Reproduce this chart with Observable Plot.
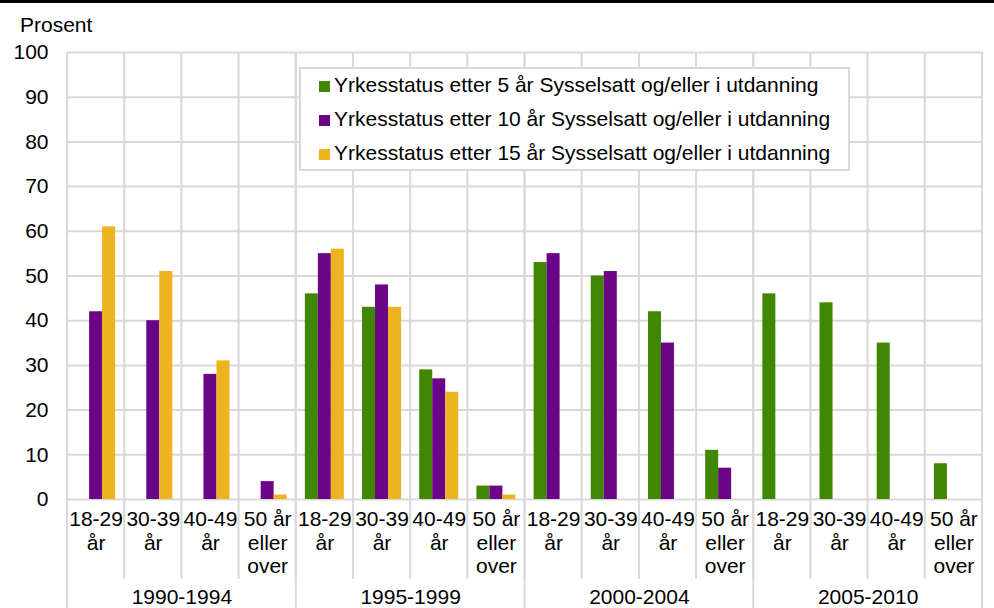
<!DOCTYPE html>
<html>
<head>
<meta charset="utf-8">
<script src="https://cdn.jsdelivr.net/npm/d3@7"></script>
<script src="https://cdn.jsdelivr.net/npm/@observablehq/plot@0.6"></script>
<style>
  html, body { margin: 0; padding: 0; background: white; }
  body { width: 994px; height: 608px; position: relative; overflow: hidden;
         font-family: "Liberation Sans", Arial, sans-serif; color: #000; }
  #topbar { height: 3px; background: #000; }
  #ylabel { position: absolute; left: 20px; top: 14px; font-size: 21px; line-height: 21px; }
  #legend { position: absolute; left: 299px; top: 67px; width: 551px; height: 104px;
            box-sizing: border-box; border: 2px solid #d9d9d9; background: white; }
  .item { position: absolute; font-size: 21px; line-height: 21px; white-space: nowrap; }
  .sw { position: absolute; left: 18px; width: 11px; height: 11px; }
  .lt { left: 33px; }
</style>
</head>
<body>
<div id="topbar"></div>
<div id="chart"></div>
<div id="ylabel">Prosent</div>
<div id="legend"></div>
<script>
// ---- data ----
const periods = ["1990-1994", "1995-1999", "2000-2004", "2005-2010"];
const ages = ["18-29 år", "30-39 år", "40-49 år", "50 år eller over"];
const ageLabels = ["18-29\når", "30-39\når", "40-49\når", "50 år\neller\nover"];
const series = [
  "Yrkesstatus etter 5 år Sysselsatt og/eller i utdanning",
  "Yrkesstatus etter 10 år Sysselsatt og/eller i utdanning",
  "Yrkesstatus etter 15 år Sysselsatt og/eller i utdanning"
];
const colors = ["#408600", "#6a0587", "#edb420"];
// values by period then age group (null = no bar)
const values5  = [null, null, null, null,  46, 43, 29, 3,  53, 50, 42, 11,  46, 44, 35, 8];
const values10 = [42, 40, 28, 4,           55, 48, 27, 3,  55, 51, 35, 7,   null, null, null, null];
const values15 = [61, 51, 31, 1,           56, 43, 24, 1,  null, null, null, null, null, null, null, null];
const yTicks = [0, 10, 20, 30, 40, 50, 60, 70, 80, 90, 100];

// ---- derived table ----
const keys = [];
periods.forEach(p => ages.forEach(a => keys.push(p + "|" + a)));
const rows = [];
[values5, values10, values15].forEach((vals, si) => {
  vals.forEach((v, i) => {
    if (v != null) rows.push({key: keys[i], series: series[si], value: v});
  });
});
const labelOf = Object.fromEntries(keys.map((k, i) => [k, ageLabels[i % ages.length]]));
const groupStarts = periods.map(p => p + "|" + ages[0]);
const groupMids = periods.map(p => ({key: p + "|" + ages[1], period: p}));

const W = 994, H = 605, ML = 67, MR = 12, MT = 49, MB = 109;
const fw = (W - ML - MR) / keys.length;
const gridColor = "#d9d9d9";
const FS = 21;

const chart = Plot.plot({
  width: W, height: H,
  marginLeft: ML, marginRight: MR, marginTop: MT, marginBottom: MB,
  style: {fontFamily: '"Liberation Sans", Arial, sans-serif', fontSize: FS + "px", color: "#000", background: "white", overflow: "visible"},
  fx: {domain: keys, padding: 0, round: false, axis: null},
  x: {domain: series, paddingInner: 0, paddingOuter: 0.7, round: false, axis: null},
  y: {domain: [0, 100], axis: null},
  color: {domain: series, range: colors},
  marks: [
    Plot.gridY(yTicks, {stroke: gridColor, strokeOpacity: 1, strokeWidth: 2}),
    // category separators
    Plot.barY(keys, {fx: d => d, y1: 0, y2: 100, fill: gridColor, insetLeft: -1, insetRight: fw - 1, insetBottom: -80}),
    // group separators
    Plot.barY(groupStarts, {fx: d => d, y1: 0, y2: 100, fill: gridColor, insetLeft: -1, insetRight: fw - 1, insetBottom: -MB}),
    Plot.barY([keys[keys.length - 1]], {fx: d => d, y1: 0, y2: 100, fill: gridColor, insetLeft: fw - 1, insetRight: -1, insetBottom: -MB}),
    Plot.barY(rows, {fx: "key", x: "series", y: "value", fill: "series"}),
    Plot.axisY({ticks: yTicks, tickSize: 0, tickPadding: 19, fontSize: FS, label: null}),
    Plot.axisFx({anchor: "bottom", tickFormat: k => labelOf[k], tickSize: 0, tickPadding: 10, fontSize: FS, lineHeight: 1.12, label: null}),
    Plot.text(groupMids, {fx: "key", text: "period", frameAnchor: "bottom-right", textAnchor: "middle", lineAnchor: "middle", dy: 98, fontSize: FS})
  ]
});
document.getElementById("chart").appendChild(chart);

// legend
const legend = document.getElementById("legend");
series.forEach((s, i) => {
  const top = 33.75 * i;
  const sw = document.createElement("div");
  sw.className = "sw";
  sw.style.top = (12 + top) + "px";
  sw.style.background = colors[i];
  legend.appendChild(sw);
  const t = document.createElement("div");
  t.className = "item lt";
  t.style.top = (5 + top) + "px";
  t.textContent = s;
  legend.appendChild(t);
});
</script>
</body>
</html>
